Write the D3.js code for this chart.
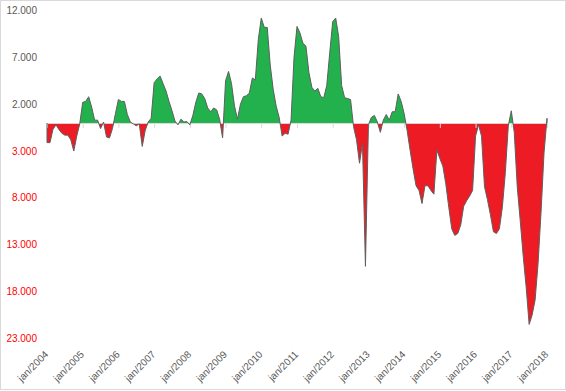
<!DOCTYPE html>
<html><head><meta charset="utf-8">
<script src="https://cdn.jsdelivr.net/npm/d3@7"></script>
<style>html,body{margin:0;padding:0;background:#fff;} svg{display:block;}</style>
</head><body>
<svg id="chart" width="566" height="391"></svg>
<script>
// ---- DATA ----
const monthNames = ["jan","fev","mar","abr","mai","jun","jul","ago","set","out","nov","dez"];
const startYear = 2004;
// monthly values, jan/2004 .. jan/2018
const values = [
  -2100, -2100, -700, -200, -700, -1100, -1300, -1300, -1800, -3000, -1400, -100,
  2200, 2300, 2800, 1700, 300, 300, -600, 100, -1500, -1600, -600, 1000,
  2500, 2300, 2300, 900, 100, -100, -300, -100, -2500, -800, 100, 500,
  4300, 4700, 5000, 4200, 3400, 2300, 1300, 200, -200, 400, 100, 150,
  -200, 800, 2200, 3200, 3100, 2600, 1600, 1200, 1600, 1400, 400, -1600,
  4500, 5500, 4200, 1800, 400, 2000, 2800, 2900, 3200, 4800, 4600, 8900,
  11200, 10200, 10200, 6200, 3600, 1800, 600, -1400, -1100, -1200, 300, 7000,
  10300, 9600, 8500, 8200, 5400, 3800, 3400, 3700, 2800, 2700, 4000, 7500,
  10800, 11200, 9200, 4000, 2700, 2600, 2500, -400, -1800, -4300, -2200, -15300,
  -200, 600, 800, 100, -1000, 300, 900, 300, 1200, 1200, 3100, 2300,
  1000, -800, -2900, -4900, -6700, -7200, -8600, -6700, -6700, -7200, -7600, -2900,
  -3800, -4600, -6500, -9000, -11300, -12000, -11800, -10900, -8900, -8300, -7800, -7200,
  -1400, -200, -1400, -6800, -8200, -9800, -11600, -11800, -11300, -9000, -5300, -300,
  1300, -1000, -6800, -10400, -14200, -17500, -21500, -20500, -18900, -15000, -9500, -3200,
  500
];
const yTicks = [12000, 7000, 2000, -3000, -8000, -13000, -18000, -23000];
const xTickLabels = ["jan/2004","jan/2005","jan/2006","jan/2007","jan/2008","jan/2009","jan/2010",
  "jan/2011","jan/2012","jan/2013","jan/2014","jan/2015","jan/2016","jan/2017","jan/2018"];

const categories = values.map((v, i) => monthNames[i % 12] + "/" + (startYear + Math.floor(i / 12)));
const data = values.map((v, i) => ({c: categories[i], v}));

// ---- CHART ----
const svg = d3.select("#chart");
const W = 566, H = 391;
const x = d3.scalePoint().domain(categories).range([47, 547]);
const y = d3.scaleLinear().domain([-23000, 12000]).range([338.5, 10.5]);
const y0 = y(0);

svg.append("rect").attr("x", 0.5).attr("y", 0.5).attr("width", W - 1).attr("height", H - 2)
  .attr("fill", "#fff").attr("stroke", "#D9D9D9");

const defs = svg.append("defs");
defs.append("clipPath").attr("id", "clipPos").append("rect")
  .attr("x", 0).attr("y", 0).attr("width", W).attr("height", y0);
defs.append("clipPath").attr("id", "clipNeg").append("rect")
  .attr("x", 0).attr("y", y0).attr("width", W).attr("height", H - y0);

const area = d3.area().x(d => x(d.c)).y0(y0).y1(d => y(d.v));
svg.append("path").datum(data).attr("d", area).attr("fill", "#22B14C").attr("clip-path", "url(#clipPos)");
svg.append("path").datum(data).attr("d", area).attr("fill", "#ED1C24").attr("clip-path", "url(#clipNeg)");

// zero axis
const xAxis = d3.axisBottom(x).tickValues(xTickLabels).tickSize(5).tickSizeOuter(0).tickFormat("");
const gx = svg.append("g").attr("transform", `translate(0,${y0})`).call(xAxis);
gx.selectAll("path,line").attr("stroke", "#D9D9D9");

// outline
const outline = [{c: categories[0], v: 0}, ...data, {c: categories[categories.length - 1], v: 0}];
svg.append("path").datum(outline)
  .attr("d", d3.line().x(d => x(d.c)).y(d => y(d.v)))
  .attr("fill", "none").attr("stroke", "#5f5f5f").attr("stroke-width", 1).attr("stroke-linejoin", "round");

// y labels
const loc = d3.formatLocale({decimal: ",", thousands: ".", grouping: [3], currency: ["", ""]});
const fmt = loc.format(",.0f");
svg.append("g").selectAll("text").data(yTicks).join("text")
  .attr("x", 37).attr("y", d => y(d)).attr("dy", "0.35em")
  .attr("text-anchor", "end")
  .attr("font-family", "Liberation Sans, Arial, sans-serif").attr("font-size", 10)
  .attr("fill", d => d < 0 ? "#FF0000" : "#595959")
  .text(d => fmt(Math.abs(d)));

// x labels
svg.append("g").selectAll("text").data(xTickLabels).join("text")
  .attr("transform", d => `translate(${x(d) + 2},355) rotate(-45)`)
  .attr("text-anchor", "end")
  .attr("font-family", "Liberation Sans, Arial, sans-serif").attr("font-size", 10)
  .attr("fill", "#595959")
  .text(d => d);
</script>
</body></html>
